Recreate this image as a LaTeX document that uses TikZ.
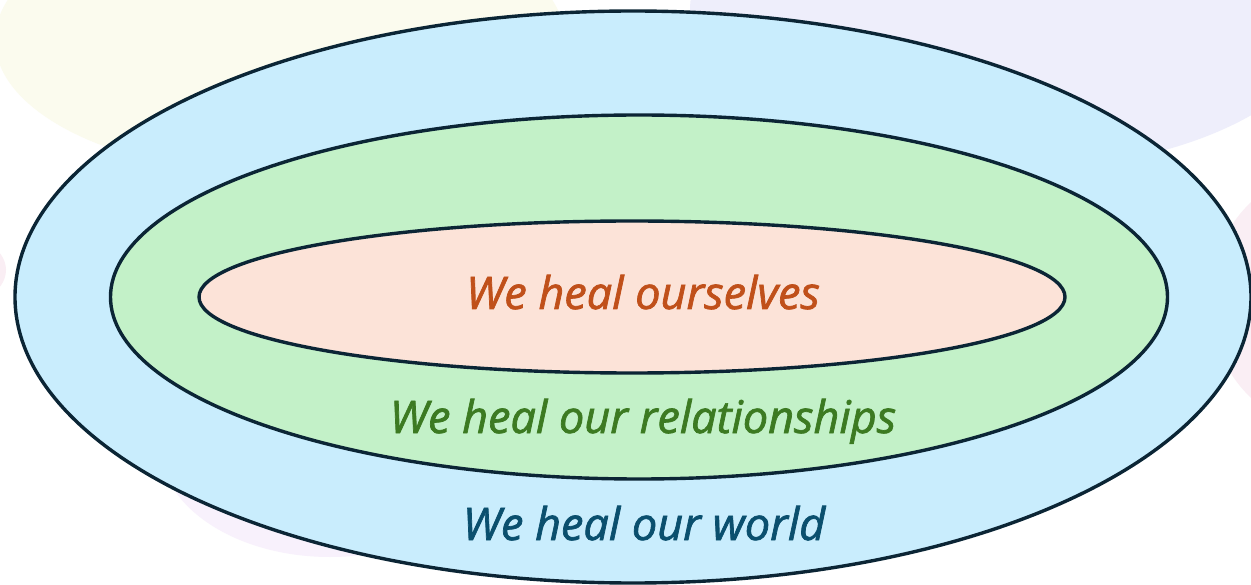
\documentclass[tikz,border=0pt]{standalone}
\usepackage{fontspec}
\setmainfont{Open Sans}
\newfontfamily\lblfont{Open Sans}[ItalicFeatures={FakeBold=1.6}]
\usetikzlibrary{shapes.geometric}
\definecolor{outerfill}{HTML}{C9EDFD}
\definecolor{midfill}{HTML}{C3F1C8}
\definecolor{innerfill}{HTML}{FCE3D8}
\definecolor{edge}{HTML}{0B2535}
\definecolor{txtinner}{HTML}{C0501A}
\definecolor{txtmid}{HTML}{3C7A22}
\definecolor{txtouter}{HTML}{0A4F6E}
\definecolor{blobyellow}{HTML}{FBFBEE}
\definecolor{bloblav}{HTML}{EEEEFB}
\definecolor{blobpink}{HTML}{FAEEF4}
\definecolor{blobpurple}{HTML}{F8F1FC}
\tikzset{
  ring/.style={draw=edge, line width=3.4pt, ellipse, inner sep=0pt},
  lbl/.style={font=\lblfont\itshape\fontsize{45}{54}\selectfont, inner sep=0pt, anchor=base},
}
\begin{document}
\begin{tikzpicture}[x=1pt,y=-1pt]
\useasboundingbox (0,0) rectangle (1251,585);
\fill[white] (0,0) rectangle (1251,585);
% faint background blobs
\fill[blobyellow] (280,40) ellipse [x radius=285, y radius=135];
\fill[bloblav] (1010,10) ellipse [x radius=320, y radius=160];
\fill[blobpink] (1330,300) ellipse [x radius=120, y radius=130];
\fill[blobpink] (-60,270) ellipse [x radius=66, y radius=40];
\fill[blobpurple] (330,445) ellipse [x radius=170, y radius=112];
% rings
\node[ring, fill=outerfill, minimum width=1236pt, minimum height=572pt] (outer) at (633,297) {};
\node[ring, fill=midfill, minimum width=1057pt, minimum height=364pt] (mid) at (639,297) {};
\node[ring, fill=innerfill, minimum width=866pt, minimum height=152pt] (inner) at (632,297) {};
% labels
\node[lbl, text=txtinner] (tin) at (643,309) {We heal ourselves};
\node[lbl, text=txtmid] (tmid) at (643,433) {We heal our relationships};
\node[lbl, text=txtouter] (tout) at (644,540) {We heal our world};
\end{tikzpicture}
\end{document}
